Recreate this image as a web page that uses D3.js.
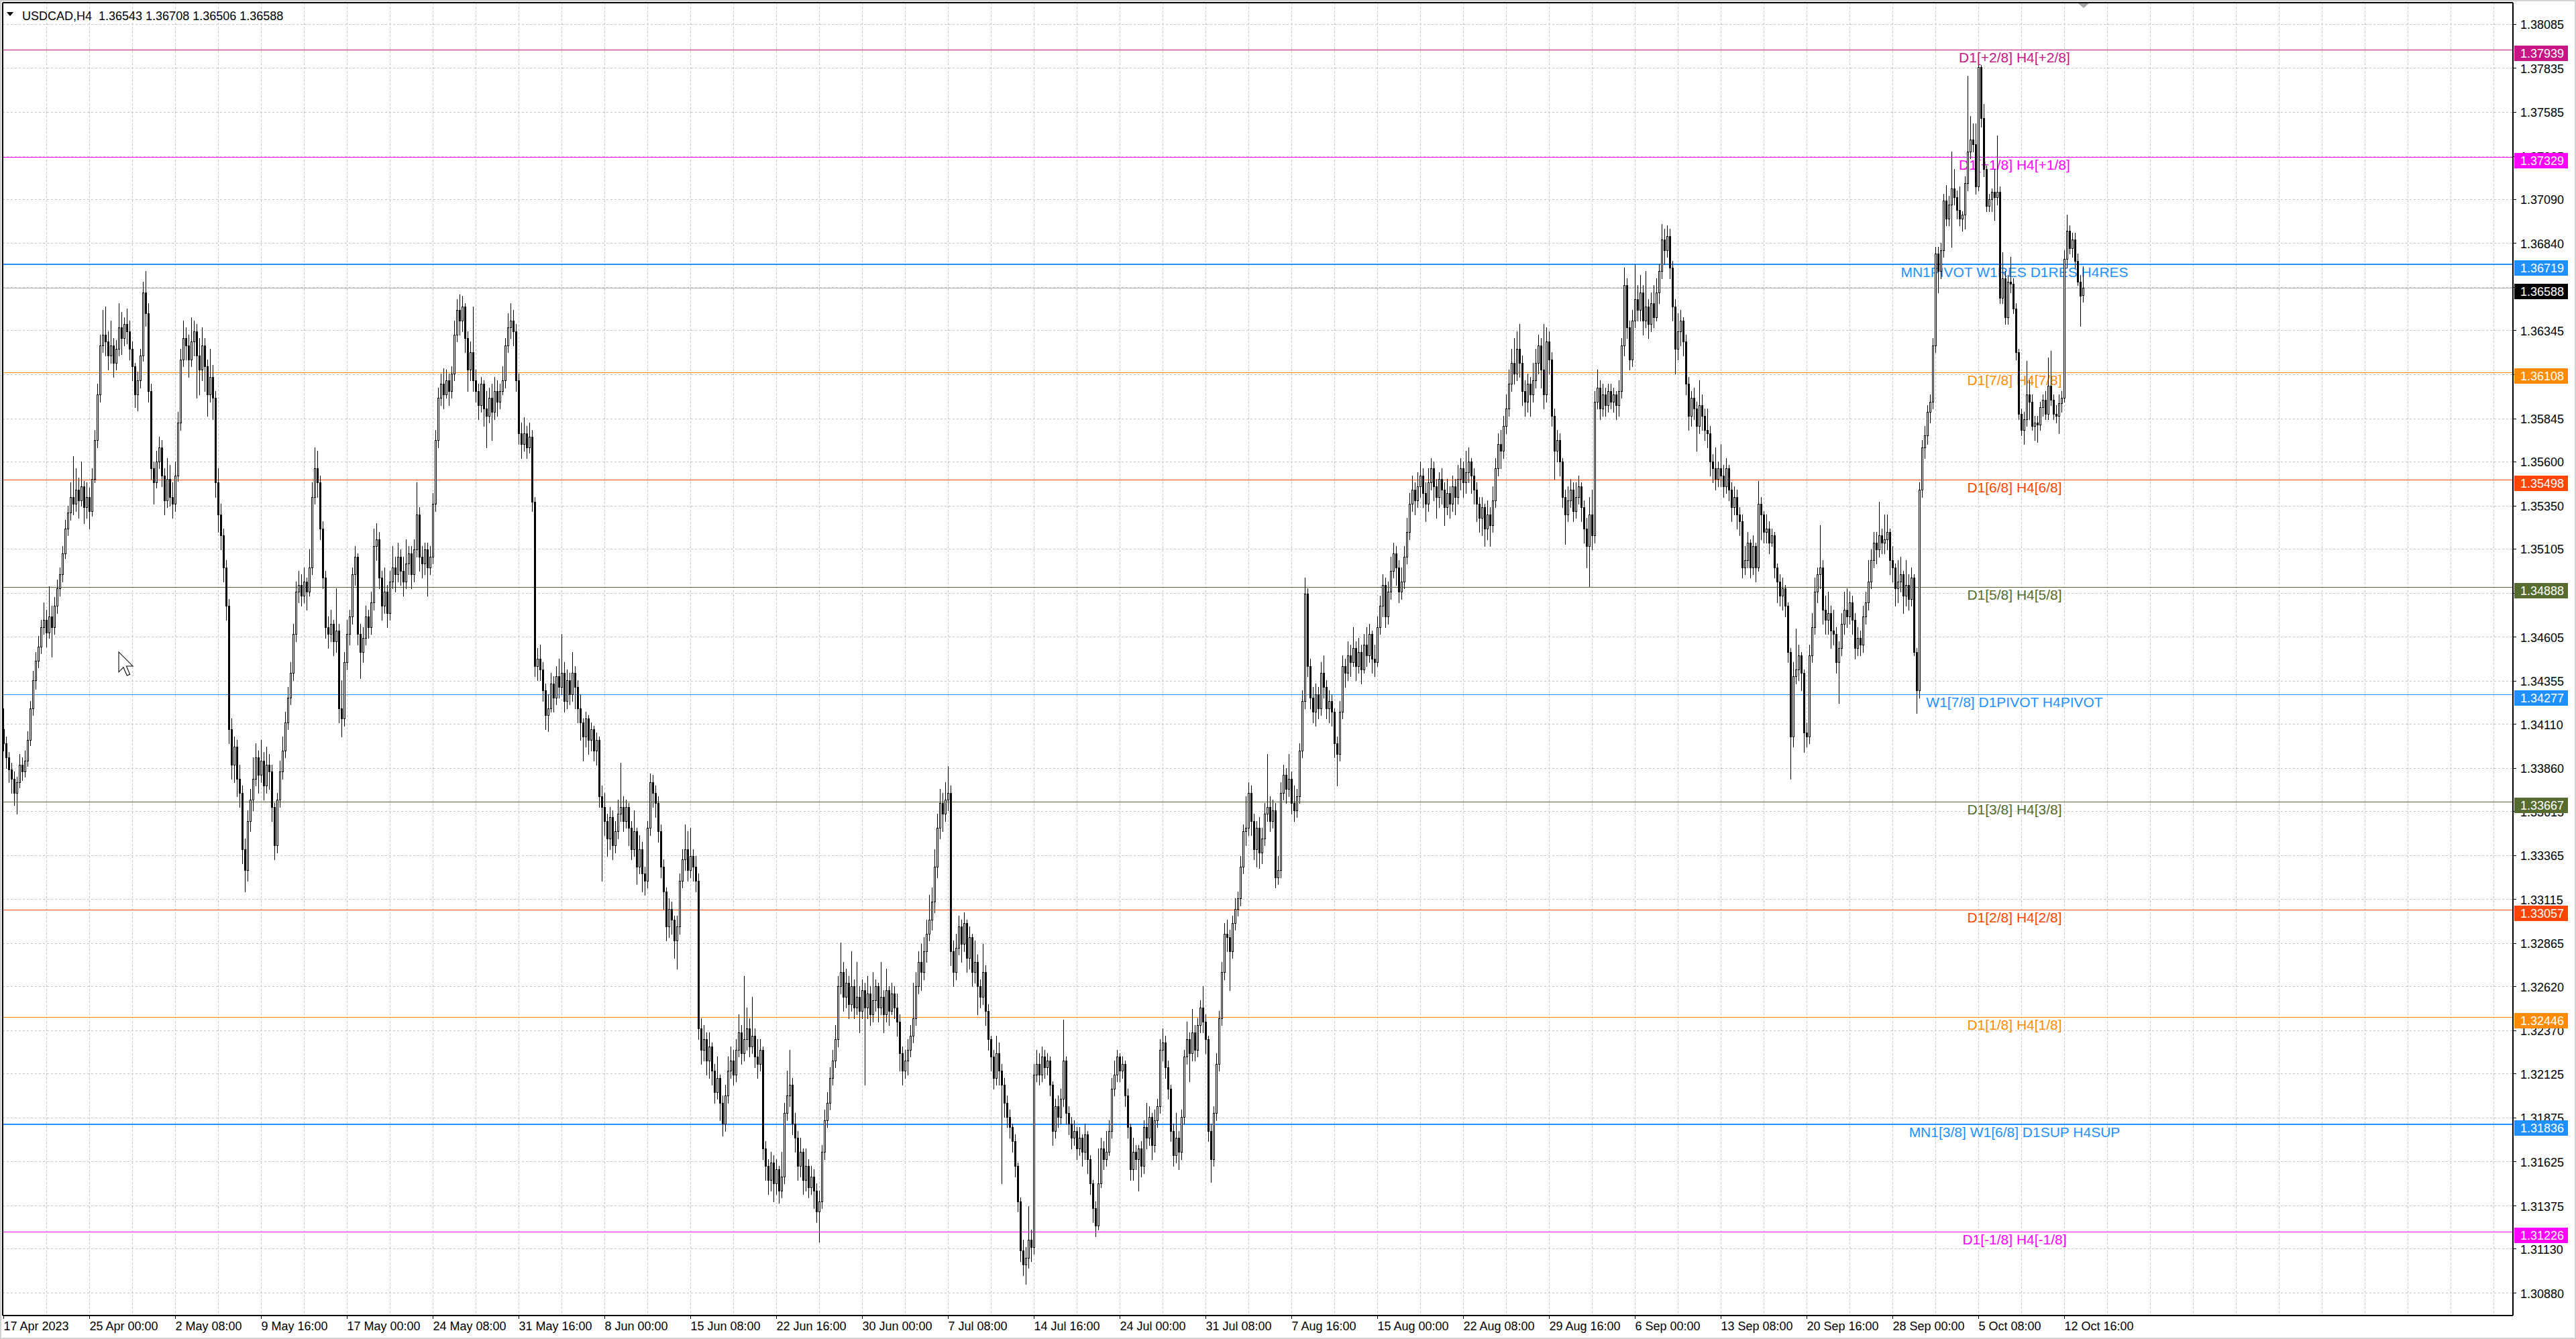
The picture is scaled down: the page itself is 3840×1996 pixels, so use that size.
<!DOCTYPE html>
<html>
<head>
<meta charset="utf-8">
<script src="https://cdn.jsdelivr.net/npm/d3@7"></script>
<style>
  html, body { margin: 0; padding: 0; background: #fff; }
  svg { display: block; }
  text { font-family: "Liberation Sans", Arial, sans-serif; }
</style>
</head>
<body>
<svg id="chart"></svg>
<script>
// USDCAD H4, 17 Apr 2023 16:00 .. 13 Oct 2023 20:00
// every bar is [open, high, low, close] in pips above priceBase
const priceBase = 1.3;
const pip = 0.0001;

const candles = [
  [408,420,396,400],[400,404,386,392],[392,395,378,385],[385,389,372,380],[380,384,365,372],[372,381,360,378],[378,394,375,388],[388,392,379,384],
  [384,396,381,390],[390,407,387,402],[402,424,399,420],[420,441,416,436],[436,452,431,447],[447,461,443,455],[455,470,451,466],[466,480,462,470],
  [470,476,455,463],[463,489,460,472],[472,478,449,466],[466,483,462,478],[478,493,474,488],[488,500,484,496],[496,512,492,508],[508,527,505,522],
  [522,535,518,531],[531,548,527,540],[540,563,530,536],[536,556,532,544],[544,551,528,538],[538,560,535,546],[546,549,525,534],[534,548,528,540],
  [540,545,522,532],[532,556,529,550],[550,578,548,572],[572,604,568,598],[598,632,594,626],[626,646,622,632],[632,648,620,628],[628,634,612,620],
  [620,640,616,626],[626,630,608,616],[616,629,612,624],[624,650,620,636],[636,645,621,630],[630,642,626,638],[638,647,627,634],[634,640,618,624],
  [624,628,606,614],[614,616,591,598],[598,611,589,606],[606,624,602,620],[620,662,617,656],[656,668,637,644],[644,650,594,600],[600,604,550,556],
  [556,560,536,548],[548,566,545,560],[560,574,556,568],[568,572,546,552],[552,556,530,538],[538,562,534,550],[550,558,535,540],[540,548,528,536],
  [536,560,532,552],[552,588,549,582],[582,624,578,618],[618,640,614,630],[630,636,618,626],[626,632,608,618],[618,642,614,628],[628,640,620,634],
  [634,638,596,620],[620,630,598,612],[612,636,606,626],[626,630,600,614],[614,618,586,598],[598,624,594,608],[608,615,584,596],[596,600,540,548],
  [548,556,520,530],[530,536,510,518],[518,522,492,500],[500,504,470,478],[478,482,400,408],[408,414,380,388],[388,404,378,398],[398,402,370,380],
  [380,388,364,372],[372,376,332,340],[340,346,316,328],[328,362,322,356],[356,374,350,368],[368,392,362,380],[380,400,376,392],[392,396,372,382],
  [382,402,378,390],[390,395,368,376],[376,398,372,388],[388,394,374,384],[384,388,356,364],[364,366,334,342],[342,372,338,368],[368,390,364,384],
  [384,404,380,396],[396,418,392,412],[412,432,408,426],[426,446,422,440],[440,468,436,462],[462,492,458,486],[486,498,480,490],[490,496,478,484],
  [484,500,480,492],[492,494,476,486],[486,510,484,500],[500,548,496,540],[540,568,536,556],[556,566,540,548],[548,552,516,522],[522,526,488,494],
  [494,498,460,466],[466,472,454,462],[462,476,458,468],[468,470,450,458],[458,488,452,464],[464,468,412,420],[420,436,404,414],[414,452,410,446],
  [446,470,442,462],[462,476,456,472],[472,500,468,496],[496,512,490,506],[506,508,456,462],[462,468,437,452],[452,466,446,460],[460,478,456,472],
  [472,476,460,466],[466,486,462,480],[480,522,476,512],[512,525,504,516],[516,520,488,494],[494,498,470,478],[478,500,474,486],[486,490,466,474],
  [474,498,470,492],[492,512,488,500],[500,506,486,496],[496,514,492,506],[506,510,490,498],[498,506,484,492],[492,516,488,502],[502,512,496,508],
  [508,512,488,496],[496,516,492,510],[510,548,506,530],[530,534,498,506],[506,512,494,502],[502,514,496,510],[510,514,484,500],[500,512,496,506],
  [506,542,502,536],[536,578,532,572],[572,602,568,596],[596,610,592,604],[604,613,590,598],[598,612,596,606],[606,610,592,600],[600,614,596,610],
  [610,640,606,632],[632,652,628,646],[646,655,632,640],[640,654,634,648],[648,650,622,630],[630,634,600,612],[612,628,606,622],[622,648,600,606],
  [606,612,594,600],[600,604,584,592],[592,608,588,604],[604,606,580,590],[590,600,568,586],[586,602,582,596],[596,604,572,588],[588,608,584,600],
  [600,606,586,594],[594,604,590,600],[600,614,598,606],[606,630,602,626],[626,644,622,636],[636,650,630,640],[640,646,626,634],[634,638,600,606],
  [606,610,570,576],[576,582,562,570],[570,585,566,576],[576,580,562,568],[568,582,565,574],[574,578,532,537],[537,540,438,444],[444,454,436,448],
  [448,456,436,442],[442,446,424,430],[430,434,408,416],[416,428,407,420],[420,440,418,434],[434,438,418,426],[426,444,422,438],[438,448,426,432],
  [432,462,428,440],[440,446,418,424],[424,442,420,436],[436,440,422,428],[428,452,424,440],[440,444,420,432],[432,436,412,420],[420,428,402,412],
  [412,414,390,404],[404,418,398,414],[414,416,394,402],[402,412,396,408],[408,410,390,396],[396,406,388,402],[402,404,364,370],[370,376,322,364],
  [364,372,348,356],[356,360,336,346],[346,364,340,358],[358,362,334,342],[342,356,338,350],[350,368,346,360],[360,389,356,364],[364,370,350,356],
  [356,368,352,364],[364,366,342,352],[352,356,334,340],[340,362,336,350],[350,352,320,330],[330,348,326,340],[340,344,316,326],[326,330,314,322],
  [322,356,318,352],[352,383,348,378],[378,382,364,372],[372,376,358,366],[366,370,344,350],[350,354,324,330],[330,334,306,316],[316,318,288,296],
  [296,312,290,306],[306,310,292,300],[300,302,278,288],[288,302,272,296],[296,326,292,322],[322,340,318,334],[334,354,328,340],[340,350,322,328],
  [328,352,324,336],[336,340,322,330],[330,336,316,322],[322,326,232,238],[238,244,218,226],[226,240,220,232],[232,236,212,220],[220,236,210,228],
  [228,230,206,214],[214,218,196,202],[202,222,198,210],[210,212,186,196],[196,200,177,184],[184,206,180,200],[200,222,196,214],[214,228,210,220],
  [220,226,206,212],[212,232,208,226],[226,246,222,236],[236,240,218,224],[224,268,220,232],[232,250,226,238],[238,244,222,228],[228,256,224,234],
  [234,238,216,222],[222,232,210,218],[218,232,214,226],[226,228,164,170],[170,174,152,160],[160,164,144,152],[152,168,146,162],[162,166,140,150],
  [150,164,144,158],[158,160,139,146],[146,168,142,154],[154,196,150,190],[190,214,186,200],[200,226,194,206],[206,210,178,184],[184,190,168,176],
  [176,180,152,160],[160,176,154,168],[168,170,144,152],[152,170,146,160],[160,164,142,148],[148,160,144,154],[154,158,136,146],[146,150,128,134],
  [134,146,117,140],[140,172,136,168],[168,192,164,186],[186,202,182,196],[196,216,192,210],[210,226,206,220],[220,240,216,232],[232,268,228,262],
  [262,287,258,270],[270,276,248,256],[256,272,250,264],[264,268,244,252],[252,282,248,262],[262,266,244,250],[250,276,246,256],[256,262,236,248],
  [248,266,244,260],[260,264,206,250],[250,268,244,258],[258,262,240,246],[246,270,242,254],[254,266,248,262],[262,264,242,250],[250,276,246,256],
  [256,260,236,246],[246,272,242,260],[260,262,240,248],[248,264,246,258],[258,262,244,250],[250,258,234,242],[242,246,214,224],[224,228,206,214],
  [214,226,210,220],[220,232,212,226],[226,240,222,234],[234,264,230,244],[244,270,240,262],[262,282,258,276],[276,286,260,270],[270,290,266,282],
  [282,300,276,292],[292,314,288,300],[300,318,294,310],[310,340,304,330],[330,360,324,352],[352,374,346,366],[366,372,350,360],[360,378,356,368],
  [368,387,362,372],[372,376,274,282],[282,288,262,270],[270,292,266,284],[284,302,280,296],[296,300,276,286],[286,304,282,298],[298,300,270,278],
  [278,296,272,290],[290,292,262,270],[270,288,264,276],[276,280,246,262],[262,266,250,256],[256,286,252,270],[270,274,240,248],[248,252,226,232],
  [232,234,214,222],[222,226,204,210],[210,234,206,224],[224,230,206,214],[214,218,150,206],[206,210,188,196],[196,200,182,188],[188,192,176,182],
  [182,184,168,174],[174,178,154,160],[160,162,134,140],[140,142,106,112],[112,118,98,104],[104,114,93,108],[108,137,102,118],[118,124,106,114],
  [114,218,110,212],[212,226,208,218],[218,224,206,212],[212,228,208,222],[222,226,210,216],[216,224,212,220],[220,222,200,206],[206,208,172,180],
  [180,198,176,194],[194,200,182,188],[188,204,184,198],[198,243,194,220],[220,222,184,190],[190,194,178,184],[184,188,170,176],[176,186,172,180],
  [180,182,164,170],[170,182,166,176],[176,178,160,168],[168,184,164,178],[178,180,156,164],[164,166,144,150],[150,152,128,136],[136,140,120,126],
  [126,170,124,150],[150,176,148,170],[170,174,158,164],[164,180,160,168],[168,186,166,180],[180,210,176,204],[204,220,200,212],[212,226,208,222],
  [222,224,208,214],[214,222,210,218],[218,220,194,200],[200,204,176,182],[182,184,152,158],[158,176,152,168],[168,172,158,164],[164,172,146,170],
  [170,174,154,160],[160,186,156,182],[182,196,170,176],[176,194,172,188],[188,190,164,172],[172,192,168,186],[186,198,182,194],[194,232,190,226],
  [226,238,220,230],[230,234,210,216],[216,220,198,204],[204,206,174,180],[180,184,160,166],[166,190,162,176],[176,180,158,168],[168,192,164,188],
  [188,226,184,222],[222,242,218,232],[232,236,208,224],[224,249,220,236],[236,240,220,226],[226,244,222,240],[240,254,236,250],[250,262,236,242],
  [242,246,224,232],[232,234,174,180],[180,184,151,164],[164,194,160,190],[190,224,186,218],[218,248,214,244],[244,276,240,270],[270,298,266,292],
  [292,300,282,290],[290,294,260,282],[282,302,278,298],[298,312,294,306],[306,316,302,312],[312,336,308,330],[330,354,326,350],[350,370,342,352],
  [352,378,348,372],[372,376,348,356],[356,360,334,340],[340,356,330,352],[352,358,329,338],[338,352,332,346],[346,366,342,360],[360,394,356,364],
  [364,370,350,356],[356,368,352,362],[362,366,318,324],[324,336,320,328],[328,378,324,372],[372,388,368,382],[382,386,366,374],[374,394,370,380],
  [380,384,360,366],[366,376,356,362],[362,374,358,370],[370,400,366,396],[396,430,392,424],[424,494,420,485],[485,488,438,444],[444,448,420,426],
  [426,432,412,418],[418,434,410,428],[428,432,414,420],[420,446,416,440],[440,450,426,432],[432,436,414,420],[420,430,412,424],[424,428,410,418],
  [418,420,392,400],[400,404,376,394],[394,424,390,418],[418,450,414,444],[444,448,432,440],[440,458,436,450],[450,456,438,446],[446,466,444,454],
  [454,458,436,444],[444,460,440,452],[452,456,434,442],[442,462,440,456],[456,466,444,450],[450,468,446,462],[462,464,440,448],[448,456,438,446],
  [446,472,444,466],[466,484,462,478],[478,496,472,490],[490,494,466,472],[472,492,468,486],[486,506,482,498],[498,514,494,508],[508,512,490,500],
  [500,504,480,486],[486,500,482,492],[492,512,488,506],[506,528,502,520],[520,542,516,536],[536,552,532,544],[544,548,530,538],[538,554,534,546],
  [546,560,540,552],[552,556,534,542],[542,548,526,536],[536,556,532,548],[548,562,544,556],[556,560,538,546],[546,550,528,540],[540,554,534,550],
  [550,556,536,544],[544,548,524,534],[534,550,530,542],[542,546,528,536],[536,552,532,546],[546,550,530,540],[540,558,536,550],[550,562,544,556],
  [556,560,540,548],[548,566,542,554],[554,568,548,560],[560,562,542,552],[552,556,536,544],[544,548,526,536],[536,540,520,528],[528,540,518,534],
  [534,536,512,522],[522,538,516,530],[530,534,512,524],[524,546,520,538],[538,562,534,556],[556,576,552,570],[570,578,556,566],[566,586,562,580],
  [580,598,576,590],[590,612,586,604],[604,624,600,616],[616,630,604,610],[610,634,606,624],[624,638,608,616],[616,620,592,600],[600,606,586,594],
  [594,610,588,604],[604,608,586,598],[598,616,594,606],[606,624,602,616],[616,632,610,626],[626,630,602,612],[612,638,590,598],[598,636,594,628],
  [628,634,610,618],[618,622,580,586],[586,590,550,566],[566,578,560,572],[572,576,552,560],[560,562,534,540],[540,544,513,530],[530,546,526,538],
  [538,550,534,544],[544,548,526,532],[532,548,528,540],[540,552,536,546],[546,548,526,534],[534,538,514,522],[522,528,500,512],[512,540,489,530],
  [530,544,510,518],[518,600,514,594],[594,612,590,602],[602,606,584,590],[590,604,586,598],[598,602,586,592],[592,604,588,600],[600,604,590,594],
  [594,602,588,598],[598,600,584,592],[592,606,586,600],[600,630,596,626],[626,670,620,660],[660,664,630,636],[636,640,612,618],[618,646,614,640],
  [640,672,636,652],[652,660,640,646],[646,666,640,656],[656,660,632,640],[640,668,636,648],[648,652,630,638],[638,656,634,650],[650,660,636,642],
  [642,664,640,656],[656,672,650,668],[668,695,664,686],[686,692,672,680],[680,694,676,688],[688,692,664,670],[670,674,640,648],[648,652,610,624],
  [624,644,618,634],[634,646,626,640],[640,642,620,628],[628,632,598,604],[604,608,578,586],[586,600,580,596],[596,602,584,590],[590,594,566,580],
  [580,606,576,592],[592,598,578,586],[586,590,572,578],[578,590,568,576],[576,580,552,560],[560,564,548,556],[556,568,544,550],[550,560,546,556],
  [556,570,546,552],[552,558,540,546],[546,562,542,556],[556,558,538,544],[544,548,526,534],[534,546,530,540],[540,544,522,530],[530,534,518,526],
  [526,530,494,500],[500,512,496,504],[504,520,500,514],[514,516,494,500],[500,518,496,512],[512,514,492,500],[500,549,498,536],[536,540,516,530],
  [530,532,514,520],[520,530,514,522],[522,526,508,514],[514,522,512,518],[518,520,494,500],[500,502,480,492],[492,496,478,484],[484,494,476,488],
  [488,490,472,478],[478,480,446,452],[452,454,380,404],[404,446,398,438],[438,465,434,442],[442,456,436,450],[450,452,430,440],[440,442,395,406],
  [406,412,398,404],[404,456,400,450],[450,474,446,466],[466,494,462,486],[486,500,480,496],[496,524,488,500],[500,504,468,476],[476,484,462,470],
  [470,486,462,474],[474,478,454,464],[464,476,456,462],[462,466,440,446],[446,458,423,454],[454,474,450,468],[468,486,462,476],[476,488,466,472],
  [472,486,468,480],[480,484,462,470],[470,474,448,454],[454,466,450,460],[460,464,450,456],[456,478,452,472],[472,486,468,480],[480,504,476,492],
  [492,510,488,504],[504,520,500,514],[514,520,502,510],[510,537,506,518],[518,522,508,514],[514,530,508,516],[516,530,510,520],[520,522,496,504],
  [504,512,492,500],[500,502,478,488],[488,504,480,492],[492,506,486,496],[496,498,474,484],[484,504,478,490],[490,496,476,482],[482,500,478,494],
  [494,496,450,452],[452,454,417,430],[430,548,426,544],[544,572,540,568],[568,580,562,575],[575,592,570,588],[588,598,582,594],[594,630,590,626],
  [626,682,622,678],[678,682,656,668],[668,684,664,680],[680,712,676,708],[708,717,694,698],[698,711,694,706],[706,736,682,715],[715,726,706,710],
  [710,714,698,703],[703,716,694,698],[698,702,691,700],[700,722,692,718],[718,779,714,736],[736,756,732,743],[743,752,736,740],[740,752,712,716],
  [716,785,714,784],[784,785,750,755],[755,763,722,726],[726,728,702,705],[705,712,702,709],[709,715,702,713],[713,726,697,710],[710,745,706,713],
  [713,716,650,653],[653,679,650,664],[664,668,638,642],[642,666,638,662],[662,676,656,661],[661,664,644,647],[647,650,618,622],[622,624,584,587],
  [587,590,575,578],[578,588,570,584],[584,617,580,598],[598,606,584,594],[594,598,578,580],[580,586,572,582],[582,586,571,581],[581,594,578,591],
  [591,598,586,595],[595,600,584,587],[587,619,584,603],[603,623,592,595],[595,598,584,587],[587,592,582,586],[586,598,576,593],[593,600,588,596],
  [596,680,594,675],[675,700,670,691],[691,694,678,681],[681,690,676,686],[686,690,670,674],[674,678,660,662],[662,666,637,654],[654.3,670.8,650.6,658.8]
];

// time scale labels, one every 32 bars
const timeLabels = [
  "17 Apr 2023", "25 Apr 00:00", "2 May 08:00", "9 May 16:00", "17 May 00:00",
  "24 May 08:00", "31 May 16:00", "8 Jun 00:00", "15 Jun 08:00", "22 Jun 16:00",
  "30 Jun 00:00", "7 Jul 08:00", "14 Jul 16:00", "24 Jul 00:00", "31 Jul 08:00",
  "7 Aug 16:00", "15 Aug 00:00", "22 Aug 08:00", "29 Aug 16:00", "6 Sep 00:00",
  "13 Sep 08:00", "20 Sep 16:00", "28 Sep 00:00", "5 Oct 08:00", "12 Oct 16:00"
];

const priceTicks = [
  "1.38085", "1.37835", "1.37585", "1.37335", "1.37090", "1.36840", "1.36590", "1.36345",
  "1.36095", "1.35845", "1.35600", "1.35350", "1.35105", "1.34855", "1.34605", "1.34355",
  "1.34110", "1.33860", "1.33615", "1.33365", "1.33115", "1.32865", "1.32620", "1.32370",
  "1.32125", "1.31875", "1.31625", "1.31375", "1.31130", "1.30880"
];

// Murrey math / pivot levels
const levelPrices = [1.37939, 1.37329, 1.36719, 1.36108, 1.35498, 1.34888,
                     1.34277, 1.33667, 1.33057, 1.32446, 1.31836, 1.31226];
const levelNames = [
  "D1[+2/8] H4[+2/8]", "D1[+1/8] H4[+1/8]", "MN1PIVOT W1RES D1RES H4RES",
  "D1[7/8] H4[7/8]", "D1[6/8] H4[6/8]", "D1[5/8] H4[5/8]",
  "W1[7/8] D1PIVOT H4PIVOT", "D1[3/8] H4[3/8]", "D1[2/8] H4[2/8]",
  "D1[1/8] H4[1/8]", "MN1[3/8] W1[6/8] D1SUP H4SUP", "D1[-1/8] H4[-1/8]"
];

// styles for the levels
const levelColors = ["#c71585", "#ff00ff", "#1e90ff", "#ff8c00", "#ff4500", "#556b2f",
                     "#1e90ff", "#556b2f", "#ff4500", "#ff8c00", "#1e90ff", "#ff00ff"];
const levelWidths = [1, 1, 2, 1, 1, 1, 1, 1, 1, 1, 2, 1];

const W = 3840, H = 1996;
const frame = { left: 4, top: 4, right: 3746, bottom: 1961 };

const toPrice = v => priceBase + v * pip;

const y = d3.scaleLinear().domain([1.307505, 1.382057]).range([frame.bottom, frame.top]);
const x = d3.scaleLinear().domain([0, candles.length - 1]).range([5, 3105]);
const ry = p => Math.round(y(p));
const rx = i => Math.round(x(i));

const last = candles[candles.length - 1];
const bid = toPrice(last[3]);

const svg = d3.select("#chart")
  .attr("width", W)
  .attr("height", H)
  .attr("shape-rendering", "crispEdges");

svg.append("rect").attr("width", W).attr("height", H).attr("fill", "#fff");
svg.append("rect")
  .attr("x", 1).attr("y", 1).attr("width", W - 2).attr("height", H - 2)
  .attr("fill", "none").attr("stroke", "#d2d2d2").attr("stroke-width", 2);

// grid
const grid = svg.append("g")
  .attr("stroke", "#c4c4c4")
  .attr("stroke-dasharray", "3,3");

grid.selectAll("line.h")
  .data(priceTicks)
  .join("line")
  .attr("class", "h")
  .attr("x1", frame.left).attr("x2", frame.right)
  .attr("y1", d => ry(+d) + 0.5).attr("y2", d => ry(+d) + 0.5);

grid.selectAll("line.v")
  .data(d3.range(16, 929, 16))
  .join("line")
  .attr("class", "v")
  .attr("x1", d => rx(d) + 0.5).attr("x2", d => rx(d) + 0.5)
  .attr("y1", frame.top).attr("y2", frame.bottom);

// level lines
svg.append("g").selectAll("line")
  .data(levelPrices)
  .join("line")
  .attr("x1", frame.left).attr("x2", frame.right)
  .attr("y1", (d, i) => ry(d) + (levelWidths[i] === 1 ? 0.5 : 0))
  .attr("y2", (d, i) => ry(d) + (levelWidths[i] === 1 ? 0.5 : 0))
  .attr("stroke", (d, i) => levelColors[i])
  .attr("stroke-width", (d, i) => levelWidths[i]);

// bid line
svg.append("line")
  .attr("x1", frame.left).attr("x2", frame.right)
  .attr("y1", ry(bid) + 0.5).attr("y2", ry(bid) + 0.5)
  .attr("stroke", "#b4b4b4");

// level names
svg.append("g")
  .attr("shape-rendering", "auto")
  .selectAll("text")
  .data(levelPrices)
  .join("text")
  .attr("x", 3003)
  .attr("y", d => ry(d) + 19)
  .attr("text-anchor", "middle")
  .attr("font-size", 21)
  .attr("fill", (d, i) => levelColors[i])
  .text((d, i) => levelNames[i]);

// candles
const bars = svg.append("g").selectAll("g")
  .data(candles)
  .join("g");

bars.append("line")
  .attr("x1", (d, i) => rx(i) + 0.5).attr("x2", (d, i) => rx(i) + 0.5)
  .attr("y1", d => ry(toPrice(d[1]))).attr("y2", d => ry(toPrice(d[2])) + 1)
  .attr("stroke", "#000");

bars.append("rect")
  .attr("x", (d, i) => rx(i) - 0.5)
  .attr("width", 2)
  .attr("y", d => ry(toPrice(Math.max(d[0], d[3]))) + 0.5)
  .attr("height", d => Math.max(1, ry(toPrice(Math.min(d[0], d[3]))) - ry(toPrice(Math.max(d[0], d[3])))))
  .attr("fill", d => d[3] >= d[0] ? "#fff" : "#000")
  .attr("stroke", "#000");

// chart frame
const fr = svg.append("g").attr("stroke", "#000").attr("stroke-width", 2);
fr.append("line").attr("x1", frame.left).attr("x2", frame.right).attr("y1", frame.top).attr("y2", frame.top);
fr.append("line").attr("x1", frame.left).attr("x2", frame.right).attr("y1", frame.bottom).attr("y2", frame.bottom);
fr.append("line").attr("x1", frame.left).attr("x2", frame.left).attr("y1", frame.top).attr("y2", frame.bottom);
fr.append("line").attr("x1", frame.right).attr("x2", frame.right).attr("y1", frame.top).attr("y2", frame.bottom);

// price axis; a tick text that sits wholly under a price box is left blank
const boxPrices = levelPrices.concat([bid]);
const hidden = t => boxPrices.some(p => Math.abs(ry(+t) - (ry(p) + 5)) < 5);

const yAxis = d3.axisRight(y)
  .tickValues(priceTicks.map(Number))
  .tickFormat((d, i) => hidden(priceTicks[i]) ? "" : priceTicks[i])
  .tickSize(5)
  .tickPadding(6);

const yG = svg.append("g")
  .attr("transform", `translate(${frame.right},0)`)
  .call(yAxis);
yG.select(".domain").remove();
yG.selectAll("line").attr("stroke", "#000");
yG.selectAll("text")
  .attr("font-family", "Liberation Sans, Arial, sans-serif")
  .attr("font-size", 18)
  .attr("fill", "#000")
  .attr("dy", 7);

// time axis
const xAxis = d3.axisBottom(x)
  .tickValues(d3.range(0, candles.length, 32))
  .tickFormat((d, i) => timeLabels[i])
  .tickSize(5)
  .tickPadding(3);

const xG = svg.append("g")
  .attr("transform", `translate(0,${frame.bottom})`)
  .call(xAxis);
xG.select(".domain").remove();
xG.selectAll("line").attr("stroke", "#000");
xG.selectAll("text")
  .attr("font-family", "Liberation Sans, Arial, sans-serif")
  .attr("font-size", 18)
  .attr("fill", "#000")
  .attr("text-anchor", "start")
  .attr("dy", 14);

// price labels on the axis
const boxes = levelPrices.map((p, i) => ({ p: p, color: levelColors[i] }));
boxes.push({ p: bid, color: "#000" });

const boxG = svg.append("g").selectAll("g")
  .data(boxes)
  .join("g");
boxG.append("rect")
  .attr("x", 3748).attr("y", d => ry(d.p) - 6)
  .attr("width", 80).attr("height", 23)
  .attr("fill", d => d.color);
boxG.append("text")
  .attr("x", 3757).attr("y", d => ry(d.p) + 12)
  .attr("font-size", 18)
  .attr("fill", "#fff")
  .text(d => d.p.toFixed(5));

// header
svg.append("path").attr("d", "M10,18 L20,18 L15,24 Z").attr("fill", "#000").attr("shape-rendering", "auto");
svg.append("text")
  .attr("x", 33).attr("y", 30)
  .attr("font-size", 18)
  .style("white-space", "pre")
  .text("USDCAD,H4  " + last.map(v => toPrice(v).toFixed(5)).join(" "));

// chart shift marker
svg.append("path")
  .attr("d", "M3098,5 L3114,5 L3106,12 Z")
  .attr("fill", "#a8a8a8")
  .attr("shape-rendering", "auto");

// mouse pointer
svg.append("path")
  .attr("transform", "translate(177,972) scale(1.75)")
  .attr("d", "M0,0 L0,17 L4,13 L7,20 L9.5,19 L6.5,12 L12,12 Z")
  .attr("fill", "#fff")
  .attr("stroke", "#000")
  .attr("stroke-width", 0.6)
  .attr("shape-rendering", "auto");
</script>
</body>
</html>
